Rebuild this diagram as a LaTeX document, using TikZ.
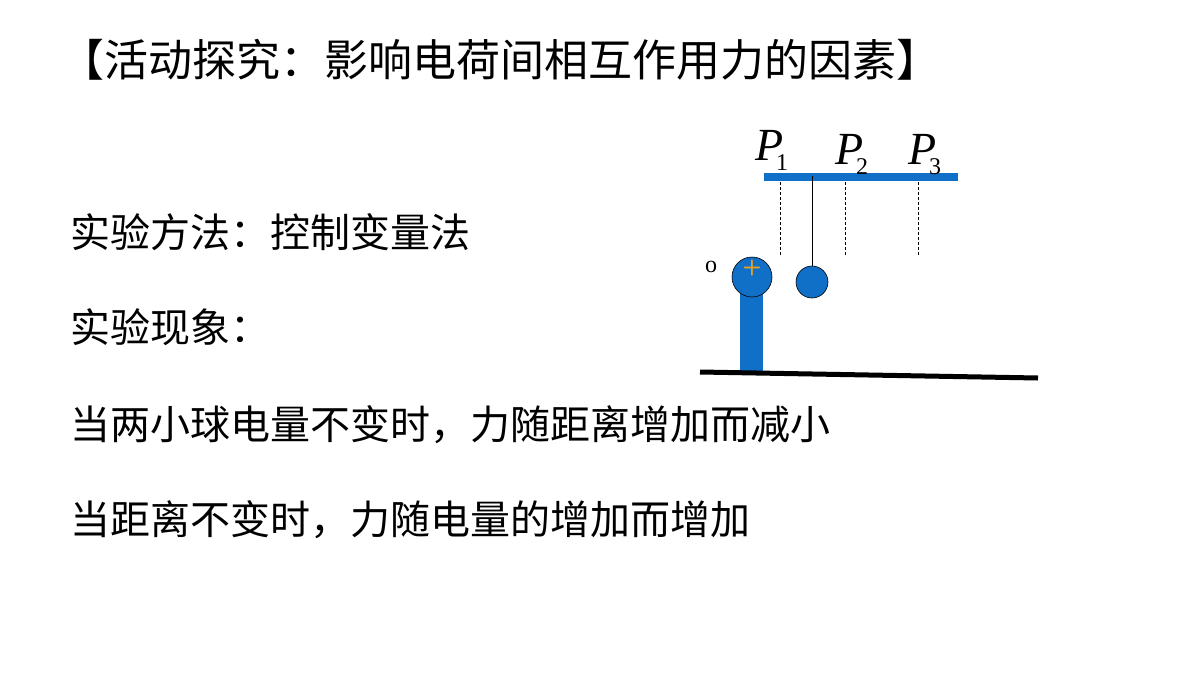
\documentclass[tikz,border=0pt]{standalone}
\usepackage{fontspec}
\newfontfamily\cjk{Noto Sans CJK SC}
\setmainfont{Liberation Serif}
\definecolor{bl}{HTML}{1070C8}
\definecolor{pl}{HTML}{E8A020}
\begin{document}
\begin{tikzpicture}[x=1pt,y=-1pt,
  txt/.style={anchor=west,inner sep=0pt,font=\cjk\fontsize{40}{40}\selectfont},
  plab/.style={inner sep=0pt,font=\itshape\fontsize{46}{46}\selectfont},
  sub/.style={inner sep=0pt,font=\fontsize{24}{24}\selectfont},
  blu/.style={fill=bl,draw=black,line width=0.6pt}]
\useasboundingbox (0,0) rectangle (1200,675);
\node[txt,font=\cjk\fontsize{44}{44}\selectfont] (t) at (60,60) {【活动探究：影响电荷间相互作用力的因素】};
\node[txt] (a) at (70,232) {实验方法：控制变量法};
\node[txt] (b) at (70,327) {实验现象：};
\node[txt] (c) at (70,425) {当两小球电量不变时，力随距离增加而减小};
\node[txt] (d) at (70,520) {当距离不变时，力随电量的增加而增加};
% apparatus
\fill[bl] (764,173) rectangle (958,181);
\node[plab] (p1) at (770,145) {P};
\node[sub] (s1) at (782,163) {1};
\node[plab] (p2) at (850,149) {P};
\node[sub] (s2) at (862,167) {2};
\node[plab] (p3) at (923,149) {P};
\node[sub] (s3) at (935,167) {3};
\draw[densely dashed,line width=0.5pt] (780,182) -- (780,255);
\draw[densely dashed,line width=0.5pt] (845,182) -- (845,255);
\draw[densely dashed,line width=0.5pt] (918,182) -- (918,255);
\draw[line width=0.8pt] (812,176) -- (812,266);
\draw[blu] (812,282) circle (16);
\fill[bl] (740,292) rectangle (763,372);
\draw[blu] (752,277) circle (20);
\node[text=pl,inner sep=0pt,font=\sffamily\bfseries\fontsize{22}{22}\selectfont] (plus) at (752,268) {+};
\node[inner sep=0pt,font=\fontsize{24}{24}\selectfont] (o) at (711,267) {o};
\draw[line width=5pt] (700,372) -- (1038,378);
\end{tikzpicture}
\end{document}
